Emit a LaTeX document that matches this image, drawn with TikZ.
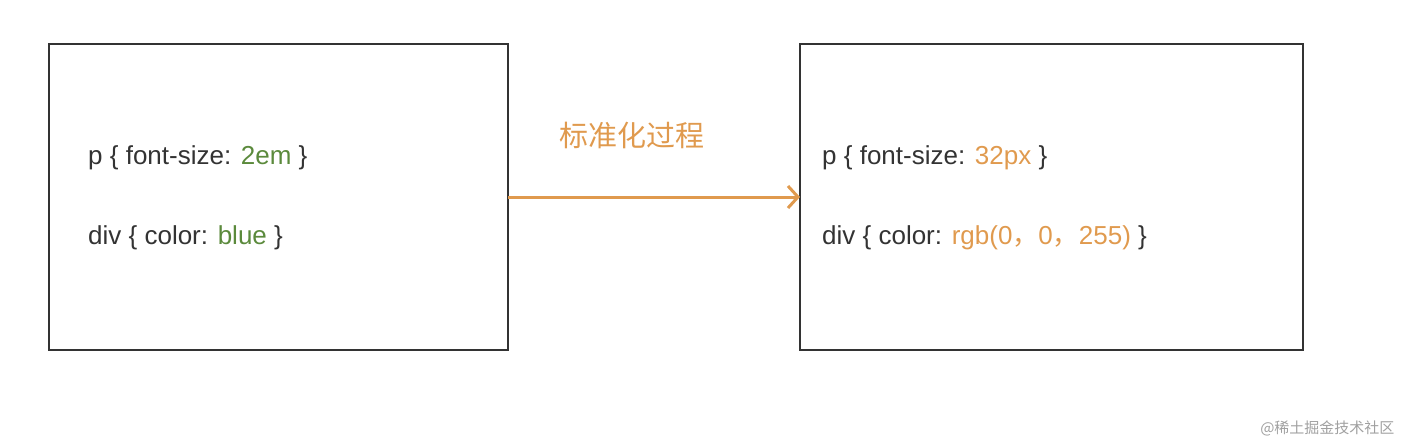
\documentclass[tikz,border=0pt]{standalone}
\usepackage{fontspec}
\usetikzlibrary{arrows.meta}
\setmainfont{Liberation Sans}
\newfontfamily\cjk{Noto Sans CJK SC}
\definecolor{txt}{HTML}{333333}
\definecolor{grn}{HTML}{5B8A3C}
\definecolor{org}{HTML}{E09A4E}
\definecolor{wm}{HTML}{A0A0A0}
\begin{document}
\begin{tikzpicture}[x=1pt,y=-1pt,
  box/.style={draw=txt,line width=1.5pt},
  code/.style={anchor=west,text=txt,font=\fontsize{26}{30}\selectfont,inner sep=0pt}]
\useasboundingbox (0,0) rectangle (1404,444);
\draw[box] (49,44) rectangle (508,350);
\draw[box] (800,44) rectangle (1303,350);
\coordinate (L) at (508,197);
\coordinate (R) at (800,197);
\draw[org,line width=3pt,-{Straight Barb[length=10pt,width=22pt]}] (L) -- (R);
\node[text=org,font=\cjk\fontsize{29}{32}\selectfont] (lab) at (632,135) {标准化过程};
\node[code] (a1) at (88,158) {p \{ font-size: \textcolor{grn}{2em} \}};
\node[code] (a2) at (88,238) {div \{ color: \textcolor{grn}{blue} \}};
\node[code] (b1) at (822,158) {p \{ font-size: \textcolor{org}{32px} \}};
\node[code] (b2) at (822,238) {div \{ color: \textcolor{org}{rgb(0{\cjk，}0{\cjk，}255)} \}};
\node[anchor=east,text=wm,font=\cjk\fontsize{15}{18}\selectfont] (w) at (1398,428) {@稀土掘金技术社区};
\end{tikzpicture}
\end{document}
